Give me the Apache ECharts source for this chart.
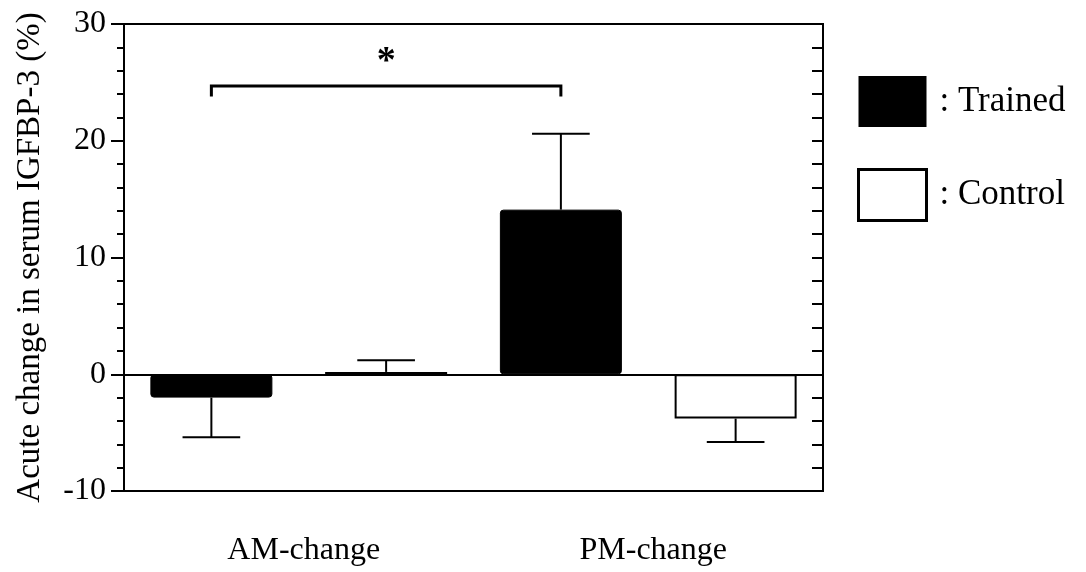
<!DOCTYPE html>
<html>
<head>
<meta charset="utf-8">
<script src="https://cdn.jsdelivr.net/npm/echarts@6/dist/echarts.min.js"></script>
<style>
  html, body { margin: 0; padding: 0; background: #fff; }
  #chart { width: 1086px; height: 572px; }
</style>
</head>
<body>
<div id="chart"></div>
<script>
// Data
const categories = ["AM-Trained", "AM-Control", "PM-Trained", "PM-Control"];
const groupLabels = ["AM-change", "PM-change"];
const trainedMean = [-2.0, "-", 14.1, "-"];
const trainedSem = [3.4, "-", 6.5, "-"];
const controlMean = ["-", 0.2, "-", -3.8];
const controlSem = ["-", 1.0, "-", 2.0];
const yTicks = { min: -10, max: 30, step: 10, minorStep: 2 };
// significance bracket: from category, to category, height, foot height, star height
const bracket = [0, 2, 24.7, 23.8, 26.7];

const FONT = "Liberation Serif";

// one-sided error bars, pointing away from zero
function errorData(mean, sem) {
  const out = [];
  mean.forEach((m, i) => {
    if (m === "-") return;
    const dir = m < 0 ? -1 : 1;
    out.push([i, m, m + dir * sem[i]]);
  });
  return out;
}

const errors = errorData(trainedMean, trainedSem).concat(
  errorData(controlMean, controlSem)
);

const axisColor = { color: "#000", width: 2 };

const option = {
  backgroundColor: "#fff",
  animation: false,
  textStyle: { fontFamily: FONT, color: "#000" },
  grid: {
    left: 124,
    top: 24,
    right: 263,
    bottom: 81,
    containLabel: false,
    outerBoundsMode: "none",
    show: true,
    borderColor: "#000",
    borderWidth: 2,
    backgroundColor: "transparent",
  },
  legend: {
    orient: "vertical",
    left: 857,
    top: 76,
    padding: 0,
    itemWidth: 68,
    itemHeight: 51,
    itemGap: 41,
    icon: "rect",
    selectedMode: false,
    formatter: (name) => ": " + name,
    textStyle: { fontFamily: FONT, fontSize: 35, color: "#000", padding: [8, 0, 0, 8] },
    data: [
      { name: "Trained", itemStyle: { color: "#000", borderColor: "#000", borderWidth: 0 } },
      { name: "Control", itemStyle: { color: "#fff", borderColor: "#000", borderWidth: 3 } },
    ],
  },
  xAxis: [
    {
      type: "category",
      data: categories,
      position: "bottom",
      axisLine: { onZero: false, lineStyle: axisColor },
      axisTick: { alignWithLabel: true, length: 13, lineStyle: axisColor },
      axisLabel: { show: false },
      splitLine: { show: false },
    },
    {
      type: "category",
      data: groupLabels,
      position: "bottom",
      axisLine: { show: false, onZero: false },
      axisTick: { show: false },
      axisLabel: { margin: 44, fontFamily: FONT, fontSize: 32, color: "#000", padding: [0, 0, 0, 10] },
      splitLine: { show: false },
    },
  ],
  yAxis: [
    {
      type: "value",
      min: yTicks.min,
      max: yTicks.max,
      interval: yTicks.step,
      name: "Acute change in serum IGFBP-3 (%)",
      nameLocation: "middle",
      nameGap: 77,
      nameRotate: 90,
      nameTextStyle: { fontFamily: FONT, fontSize: 33, color: "#000" },
      axisLine: { show: true, onZero: false, lineStyle: axisColor },
      axisTick: { show: true, length: 13, lineStyle: axisColor },
      axisLabel: { margin: 18, fontFamily: FONT, fontSize: 32, color: "#000" },
      splitLine: { show: false },
    },
    {
      // right frame with inward ticks
      type: "value",
      min: yTicks.min,
      max: yTicks.max,
      interval: yTicks.minorStep,
      position: "right",
      axisLine: { show: true, onZero: false, lineStyle: axisColor },
      axisTick: { show: true, inside: true, length: 11, lineStyle: axisColor },
      axisLabel: { show: false },
      splitLine: { show: false },
    },
    {
      // short minor ticks on the left axis
      type: "value",
      min: yTicks.min,
      max: yTicks.max,
      interval: yTicks.minorStep,
      position: "left",
      axisLine: { show: false, onZero: false },
      axisTick: { show: true, length: 7, lineStyle: axisColor },
      axisLabel: { show: false },
      splitLine: { show: false },
    },
  ],
  series: [
    {
      name: "Trained",
      type: "bar",
      data: trainedMean,
      barWidth: 122,
      barGap: "-100%",
      itemStyle: { color: "#000", borderColor: "#000", borderWidth: 1, borderRadius: 3 },
      markLine: {
        silent: true,
        symbol: "none",
        label: { show: false },
        lineStyle: { color: "#000", width: 2, type: "solid" },
        data: [{ yAxis: 0 }],
      },
    },
    {
      name: "Control",
      type: "bar",
      data: controlMean,
      barWidth: 122,
      barGap: "-100%",
      itemStyle: { color: "#fff", borderColor: "#000", borderWidth: 2 },
    },
    {
      name: "error",
      type: "custom",
      silent: true,
      z: 3,
      data: errors,
      renderItem: (params, api) => {
        const base = api.coord([api.value(0), api.value(1)]);
        const end = api.coord([api.value(0), api.value(2)]);
        const half = api.size([1, 0])[0] * 0.165;
        const style = { stroke: "#000", lineWidth: 2 };
        return {
          type: "group",
          children: [
            { type: "line", shape: { x1: base[0], y1: base[1], x2: end[0], y2: end[1] }, style },
            { type: "line", shape: { x1: end[0] - half, y1: end[1], x2: end[0] + half, y2: end[1] }, style },
          ],
        };
      },
    },
    {
      name: "bracket",
      type: "custom",
      silent: true,
      data: [bracket],
      renderItem: (params, api) => {
        const a = api.coord([api.value(0), api.value(3)]);
        const b = api.coord([api.value(0), api.value(2)]);
        const c = api.coord([api.value(1), api.value(2)]);
        const d = api.coord([api.value(1), api.value(3)]);
        const s = api.coord([(api.value(0) + api.value(1)) / 2, api.value(4)]);
        return {
          type: "group",
          children: [
            {
              type: "polyline",
              shape: { points: [a, b, c, d] },
              style: { stroke: "#000", lineWidth: 3, fill: null },
            },
            {
              type: "text",
              style: {
                text: "*",
                x: s[0],
                y: s[1],
                align: "center",
                verticalAlign: "middle",
                font: "bold 38px " + FONT,
                fill: "#000",
              },
            },
          ],
        };
      },
    },
  ],
};

const chart = echarts.init(document.getElementById("chart"));
chart.setOption(option);
</script>
</body>
</html>
